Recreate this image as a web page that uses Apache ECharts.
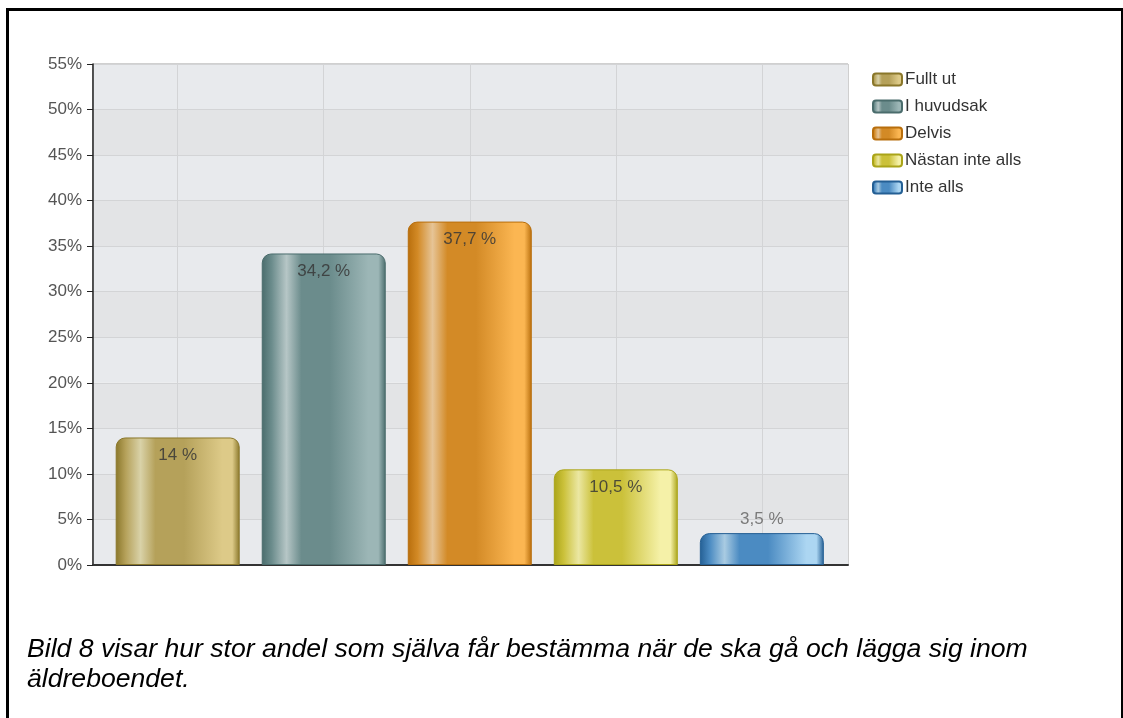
<!DOCTYPE html>
<html>
<head>
<meta charset="utf-8">
<script src="https://cdn.jsdelivr.net/npm/echarts@6/dist/echarts.min.js"></script>
<style>
	html, body { margin: 0; padding: 0; background: #fff; }
	#frame { position: absolute; left: 6px; top: 8px; width: 1112px; height: 720px; border: 3px solid #000; border-bottom: none; }
	#chart { position: absolute; left: 0; top: 0; width: 1123px; height: 718px; }
</style>
</head>
<body>
<div id="frame"></div>
<div id="chart"></div>
<script>
// svarsalternativ och andelar (%)
var categories = ['Fullt ut', 'I huvudsak', 'Delvis', 'Nästan inte alls', 'Inte alls'];
var values = [14, 34.2, 37.7, 10.5, 3.5];
var yTicks = [0, 5, 10, 15, 20, 25, 30, 35, 40, 45, 50, 55];

// färgtoner per stapel: kant, glans, mitt, ljus höger
var palette = [
	['#8a772a', '#d9d2a8', '#b5a15a', '#ddca88'],
	['#4a6c6c', '#b6c6c6', '#6b8c8c', '#9cb6b6'],
	['#b86e0c', '#e6c496', '#d38a26', '#fbb652'],
	['#aaa418', '#ebe7a2', '#cbc13a', '#f5f1a8'],
	['#245f94', '#a9cbe2', '#4b8bc2', '#acd6f2']
];

function barColor(p) {
	return new echarts.graphic.LinearGradient(0, 0, 1, 0, [
		{offset: 0, color: p[0]},
		{offset: 0.08, color: p[2]},
		{offset: 0.2, color: p[1]},
		{offset: 0.32, color: p[2]},
		{offset: 0.55, color: p[2]},
		{offset: 0.86, color: p[3]},
		{offset: 0.94, color: p[3]},
		{offset: 1, color: p[0]}
	]);
}

var font = 'Arial, "Liberation Sans", sans-serif';
var chart = echarts.init(document.getElementById('chart'));
var series = [];
categories.forEach(function (name, i) {
	series.push({
		name: name,
		type: 'bar',
		stack: 'all',
		barWidth: 124,
		z: 3,
		data: [[i, values[i]]],
		itemStyle: {
			color: barColor(palette[i]),
			borderColor: palette[i][0],
			borderWidth: 1,
			borderRadius: [9, 9, 0, 0]
		},
		label: {
			show: true,
			position: values[i] < 5 ? 'top' : 'insideTop',
			distance: values[i] < 5 ? 5 : 9,
			fontFamily: font,
			fontSize: 17,
			color: values[i] < 5 ? '#7a7a7a' : 'rgba(55,55,55,0.85)',
			formatter: function (p) {
				return String(p.value[1]).replace('.', ',') + ' %';
			}
		}
	});
});

// lodräta stödlinjer vid varje stapel
series.push({
	name: 'grid',
	type: 'line',
	data: [],
	z: 1,
	silent: true,
	markLine: {
		silent: true,
		z: 1,
		symbol: 'none',
		label: {show: false},
		lineStyle: {color: '#d3d4d6', type: 'solid', width: 1},
		data: categories.map(function (c, i) { return {xAxis: i}; })
	}
});

var option = {
	animation: false,
	textStyle: {fontFamily: font},
	title: {
		text: 'Bild 8 visar hur stor andel som själva får bestämma när de ska gå och lägga sig inom\näldreboendet.',
		left: 22,
		top: 630,
		textStyle: {
			fontFamily: font,
			fontStyle: 'italic',
			fontWeight: 'normal',
			fontSize: 26.6,
			lineHeight: 30,
			color: '#000'
		}
	},
	legend: {
		data: categories,
		orient: 'vertical',
		left: 867,
		top: 66,
		icon: 'roundRect',
		itemWidth: 29,
		itemHeight: 12,
		itemGap: 10,
		selectedMode: false,
		textStyle: {fontSize: 17, color: '#333', padding: [0, 0, 0, -2]}
	},
	grid: {
		left: 93,
		right: 275,
		top: 64,
		bottom: 153,
		show: true,
		borderColor: '#a0a0a0',
		borderWidth: 1
	},
	xAxis: {
		type: 'value',
		min: -0.58,
		max: 4.59,
		axisLabel: {show: false},
		axisTick: {show: false},
		splitLine: {show: false},
		axisLine: {show: true, onZero: false, lineStyle: {color: '#333', width: 2}}
	},
	yAxis: {
		type: 'value',
		min: yTicks[0],
		max: yTicks[yTicks.length - 1],
		interval: 5,
		axisLine: {show: true, onZero: false, lineStyle: {color: '#222', width: 1.5}},
		axisTick: {show: true, length: 6, lineStyle: {color: '#222'}},
		axisLabel: {
			formatter: '{value}%',
			fontSize: 17,
			color: '#555',
			margin: 11
		},
		splitLine: {lineStyle: {color: '#d3d4d6'}},
		splitArea: {show: true, areaStyle: {color: ['#e8eaed', '#e3e4e6']}}
	},
	series: series
};

chart.setOption(option);
</script>
</body>
</html>
